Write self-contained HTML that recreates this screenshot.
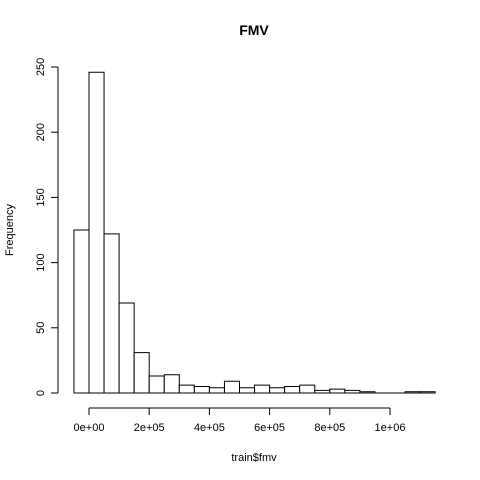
<!DOCTYPE html>
<html><head><meta charset="utf-8"><style>body{margin:0;background:#fff}svg{display:block;font-family:"Liberation Sans",sans-serif}</style></head>
<body>
<svg id="c" width="480" height="480"></svg>
<script>
const binStarts=[-50000,0,50000,100000,150000,200000,250000,300000,350000,400000,450000,500000,550000,600000,650000,700000,750000,800000,850000,900000,950000,1000000,1050000,1100000];
const counts=[125,246,122,69,31,13,14,6,5,4,9,4,6,4,5,6,2,3,2,1,0,0,1,1];
const binWidth=50000;
const xTicks=[0,200000,400000,600000,800000,1000000];
const xTickLabels=["0e+00","2e+05","4e+05","6e+05","8e+05","1e+06"];
const yTicks=[0,50,100,150,200,250];
const NS="http://www.w3.org/2000/svg";
const svg=document.getElementById('c');
const X=v=>89+v*(301/1000000);
const Y=v=>393-v*(326/250);
function add(tag,attrs,text){const e=document.createElementNS(NS,tag);for(const k in attrs)e.setAttribute(k,attrs[k]);if(text!==undefined)e.textContent=text;svg.appendChild(e);return e;}
counts.forEach((c,i)=>{
  const x0=X(binStarts[i]),x1=X(binStarts[i]+binWidth);
  const y0=Y(0),y1=Y(c);
  const r=add('path',{d:`M${x0},${y0}L${x0},${y1}L${x1},${y1}L${x1},${y0}Z`,fill:'#fff',stroke:'#000','stroke-width':1});
  
  
});
let a=add('line',{x1:X(0),x2:X(1000000),y1:408,y2:408,stroke:'#000'});

xTicks.forEach((t,i)=>{
  add('line',{x1:X(t),x2:X(t),y1:408,y2:415,stroke:'#000'});
  const e=add('text',{x:X(t),y:431,'font-size':11,'text-anchor':'middle'},xTickLabels[i]);
  
});
a=add('line',{x1:58,x2:58,y1:Y(0),y2:Y(250),stroke:'#000'});

yTicks.forEach(t=>{
  add('line',{x1:51,x2:58,y1:Y(t),y2:Y(t),stroke:'#000'});
  const e=add('text',{x:0,y:0,'font-size':11,'text-anchor':'middle',transform:`translate(44,${Y(t)}) rotate(-90)`},String(t));
  
});
let e=add('text',{x:254,y:35,'font-size':14,'font-weight':'bold','text-anchor':'middle'},'FMV');

e=add('text',{x:254,y:461,'font-size':11,'text-anchor':'middle'},'train$fmv');

e=add('text',{x:0,y:0,'font-size':11,'text-anchor':'middle',transform:'translate(13,230) rotate(-90)'},'Frequency');

</script>
</body></html>
